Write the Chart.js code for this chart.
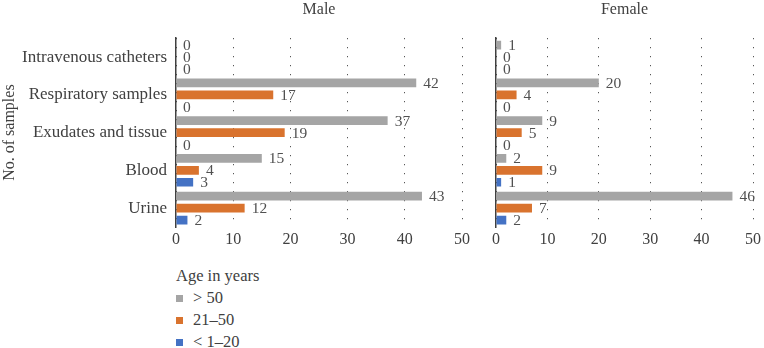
<!DOCTYPE html>
<html>
<head>
<meta charset="utf-8">
<script src="https://cdn.jsdelivr.net/npm/chart.js@4.4.1/dist/chart.umd.min.js"></script>
<style>
    html, body { margin: 0; padding: 0; background: #ffffff; }
    #wrap { position: relative; width: 764px; height: 348px; overflow: hidden; font-family: "Liberation Serif", "DejaVu Serif", serif; color: #404040; }
    #maleBox { position: absolute; left: 0; top: 0; width: 478px; height: 255px; }
    #femaleBox { position: absolute; left: 478px; top: 0; width: 286px; height: 255px; }
    #legend { position: absolute; left: 176px; top: 265px; font-size: 16.5px; }
    #legend .ttl { height: 22px; line-height: 22px; }
    #legend .item { height: 22px; line-height: 22px; display: flex; align-items: center; }
    #legend .sw { width: 7px; height: 7px; margin-right: 10px; }
</style>
</head>
<body>
<div id="wrap">
    <div id="maleBox"><canvas id="maleChart"></canvas></div>
    <div id="femaleBox"><canvas id="femaleChart"></canvas></div>
    <div id="legend"></div>
</div>
<script>
// categories (top to bottom)
const categories = ['Intravenous catheters', 'Respiratory samples', 'Exudates and tissue', 'Blood', 'Urine'];
const seriesNames = ['> 50', '21\u201350', '< 1\u201320'];
const seriesColors = ['#A5A5A5', '#D9732E', '#4472C4'];

// Male values
const male_over50 = [0, 42, 37, 15, 43];
const male_21to50 = [0, 17, 19, 4, 12];
const male_1to20 = [0, 0, 0, 3, 2];

// Female values
const female_over50 = [1, 20, 9, 2, 46];
const female_21to50 = [0, 4, 5, 9, 7];
const female_1to20 = [0, 0, 0, 1, 2];

const xTicks = [0, 10, 20, 30, 40, 50];

const FONT = '"Liberation Serif", "DejaVu Serif", serif';
const TEXT = '#404040';

//////////////////////////////////////////////
// value labels at the end of each bar
//////////////////////////////////////////////
const valueLabels = {
    id: 'valueLabels',
    afterDatasetsDraw(chart) {
        const ctx = chart.ctx;
        ctx.save();
        ctx.font = '15.5px ' + FONT;
        ctx.fillStyle = '#505050';
        ctx.textAlign = 'left';
        ctx.textBaseline = 'middle';
        chart.data.datasets.forEach((ds, i) => {
            const meta = chart.getDatasetMeta(i);
            meta.data.forEach((bar, j) => {
                ctx.fillText(String(ds.data[j]), bar.x + 7, bar.y + 1);
            });
        });
        ctx.restore();
    }
};

function makeDatasets(a, b, c) {
    return [a, b, c].map((vals, i) => ({
        label: seriesNames[i],
        data: vals,
        backgroundColor: seriesColors[i],
        borderWidth: 0,
        categoryPercentage: 0.95,
        barPercentage: 0.72
    }));
}

function buildChart(canvasId, titleText, datasets, yWidth, padRight, showLabels) {
    const ctx = document.getElementById(canvasId).getContext('2d');
    return new Chart(ctx, {
        type: 'bar',
        data: {
            labels: categories,
            datasets: datasets
        },
        options: {
            indexAxis: 'y',
            responsive: true,
            maintainAspectRatio: false,
            animation: false,
            layout: { padding: { left: 0, right: padRight, top: 0, bottom: 0 } },
            scales: {
                x: {
                    min: 0,
                    max: 50,
                    afterBuildTicks: (scale) => {
                        scale.ticks = xTicks.map(v => ({ value: v }));
                    },
                    afterFit: (scale) => { scale.height = 28; },
                    ticks: {
                        font: { family: FONT, size: 16 },
                        color: TEXT,
                        padding: 3,
                        maxRotation: 0
                    },
                    grid: {
                        color: '#303030',
                        lineWidth: 1,
                        drawTicks: false
                    },
                    border: { display: false, dash: [1, 8] }
                },
                y: {
                    afterFit: (scale) => { scale.width = yWidth; },
                    ticks: {
                        display: showLabels,
                        font: { family: FONT, size: 17 },
                        color: TEXT,
                        padding: 9
                    },
                    grid: { display: false, drawTicks: false },
                    border: { display: true, color: '#404040', width: 1.5 },
                    title: {
                        display: showLabels,
                        text: 'No. of samples',
                        font: { family: FONT, size: 16 },
                        color: TEXT,
                        padding: { top: 0, bottom: 0 }
                    }
                }
            },
            plugins: {
                legend: { display: false },
                tooltip: { enabled: false },
                title: {
                    display: true,
                    fullSize: false,
                    text: titleText,
                    font: { family: FONT, size: 16, weight: 'normal' },
                    color: TEXT,
                    padding: { top: 0, bottom: 19 }
                }
            }
        },
        plugins: [valueLabels]
    });
}

//////////////////////////////////////////////
// Legend (below the charts)
//////////////////////////////////////////////
function buildLegend() {
    const box = document.getElementById('legend');
    const ttl = document.createElement('div');
    ttl.className = 'ttl';
    ttl.textContent = 'Age in years';
    box.appendChild(ttl);
    seriesNames.forEach((name, i) => {
        const row = document.createElement('div');
        row.className = 'item';
        const sw = document.createElement('span');
        sw.className = 'sw';
        sw.style.background = seriesColors[i];
        const tx = document.createElement('span');
        tx.textContent = name;
        row.appendChild(sw);
        row.appendChild(tx);
        box.appendChild(row);
    });
}

buildChart('maleChart', 'Male', makeDatasets(male_over50, male_21to50, male_1to20), 176, 16, true);
buildChart('femaleChart', 'Female', makeDatasets(female_over50, female_21to50, female_1to20), 18, 8, false);
buildLegend();
</script>
</body>
</html>
